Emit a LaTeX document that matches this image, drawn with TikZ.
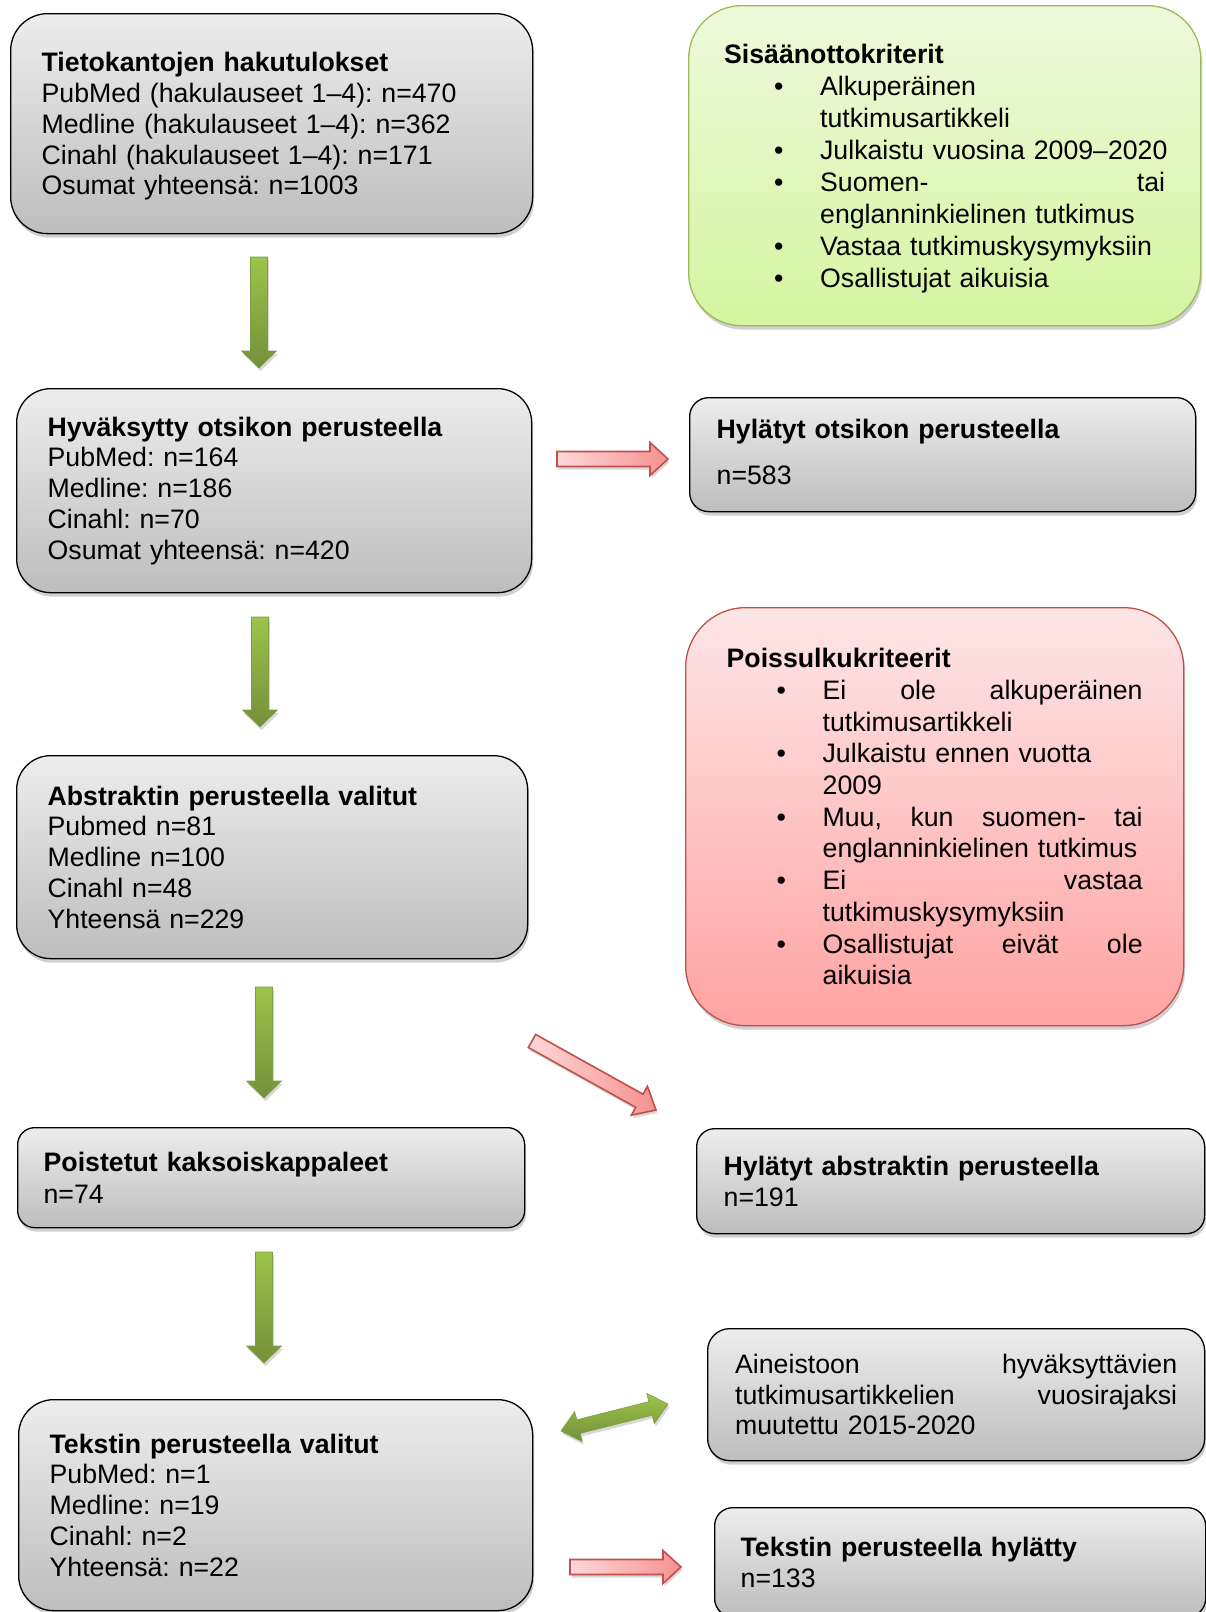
\documentclass[tikz,border=0pt]{standalone}
\usepackage{fontspec}
\setmainfont{Liberation Sans}
\usetikzlibrary{calc,shadows}
\frenchspacing
\definecolor{grayTop}{HTML}{EDEDED}
\definecolor{grayBot}{HTML}{BDBDBD}
\definecolor{grnTop}{HTML}{EEF9DC}
\definecolor{grnBot}{HTML}{D4F5A0}
\definecolor{grnBorder}{HTML}{9BBB59}
\definecolor{redTop}{HTML}{FDE6E6}
\definecolor{redBot}{HTML}{FFA3A3}
\definecolor{redBorder}{HTML}{C0504D}
\definecolor{arGreenA}{HTML}{9DC44A}
\definecolor{arGreenB}{HTML}{73903A}
\definecolor{arGreenLine}{HTML}{7E9E42}
\definecolor{arRedA}{HTML}{FFD8D8}
\definecolor{arRedB}{HTML}{F69090}
\newcommand\bitem[1]{\hspace*{50pt}\makebox[46pt][l]{•}\mbox{#1}}
\newcommand\bcont[1]{\hspace*{96pt}\mbox{#1}}
\newcommand\jline[2]{\leavevmode\hbox to #1{#2}}
% block arrow: style, start, end, half shaft, half head, head length
\newcommand\blockarrow[6]{%
  \coordinate (tmpH) at ($(#3)!#6!(#2)$);
  \path[#1] ($(#2)!#4!90:(#3)$) -- ($(tmpH)!#4!90:(#3)$) -- ($(tmpH)!#5!90:(#3)$) -- (#3)
    -- ($(tmpH)!#5!-90:(#3)$) -- ($(tmpH)!#4!-90:(#3)$) -- ($(#2)!#4!-90:(#3)$) -- cycle;}
% double block arrow: style, end A, end B, half shaft, half head, head length
\newcommand\doublearrow[6]{%
  \coordinate (tmpA) at ($(#2)!#6!(#3)$);
  \coordinate (tmpB) at ($(#3)!#6!(#2)$);
  \path[#1] (#2) -- ($(tmpA)!#5!90:(#3)$) -- ($(tmpA)!#4!90:(#3)$) -- ($(tmpB)!#4!90:(#3)$)
    -- ($(tmpB)!#5!90:(#3)$) -- (#3) -- ($(tmpB)!#5!-90:(#3)$) -- ($(tmpB)!#4!-90:(#3)$)
    -- ($(tmpA)!#4!-90:(#3)$) -- ($(tmpA)!#5!-90:(#3)$) -- cycle;}
\tikzset{
  boxbase/.style={rectangle, anchor=north west, align=left, inner ysep=0pt,
    font=\fontsize{26.7}{30.75}\selectfont,
    drop shadow={shadow xshift=1.5pt, shadow yshift=-4pt, opacity=0.3, fill=black!60}},
  graybox/.style={boxbase, draw=black, line width=1.3pt, top color=grayTop, bottom color=grayBot},
  greenbox/.style={boxbase, draw=grnBorder, line width=1.3pt, top color=grnTop, bottom color=grnBot},
  redbox/.style={boxbase, draw=redBorder, line width=1.3pt, top color=redTop, bottom color=redBot},
  arrowshadow/.style={drop shadow={shadow xshift=1.5pt, shadow yshift=-3pt, opacity=0.25, fill=black!60}},
  greendown/.style={draw=arGreenLine, line width=0.6pt, top color=arGreenA, bottom color=arGreenB, arrowshadow},
  greendbl/.style={draw=arGreenLine, line width=0.6pt, top color=arGreenA, bottom color=arGreenB, arrowshadow},
  redright/.style={draw=redBorder, line width=1.6pt, line join=miter, left color=arRedA, right color=arRedB, arrowshadow}
}
\begin{document}
\begin{tikzpicture}[x=1pt,y=-1pt]
\useasboundingbox[fill=white] (0,0) rectangle (1205,1612);

% left column
\node[graybox, minimum width=522pt, minimum height=220pt, text width=460pt, inner xsep=31pt, rounded corners=37pt] (b1) at (10,13)
 {\rule{0pt}{25pt}\textbf{Tietokantojen hakutulokset}\\PubMed (hakulauseet 1–4): n=470\\Medline (hakulauseet 1–4): n=362\\Cinahl (hakulauseet 1–4): n=171\\Osumat yhteensä: n=1003};

\node[graybox, minimum width=515pt, minimum height=204pt, text width=453pt, inner xsep=31pt, rounded corners=34pt] (b3) at (16,388)
 {\textbf{Hyväksytty otsikon perusteella}\\PubMed: n=164\\Medline: n=186\\Cinahl: n=70\\Osumat yhteensä: n=420};

\node[graybox, minimum width=511pt, minimum height=203pt, text width=449pt, inner xsep=31pt, rounded corners=34pt] (b6) at (16,755)
 {\textbf{Abstraktin perusteella valitut}\\Pubmed n=81\\Medline n=100\\Cinahl n=48\\Yhteensä n=229};

\node[graybox, minimum width=507pt, minimum height=100pt, text width=455pt, inner xsep=26pt, rounded corners=17pt, font=\fontsize{26.7}{32}\selectfont] (b8) at (17,1127)
 {\textbf{Poistetut kaksoiskappaleet}\\n=74};

\node[graybox, minimum width=514pt, minimum height=211pt, text width=452pt, inner xsep=31pt, rounded corners=35pt] (b10) at (18,1399)
 {\textbf{Tekstin perusteella valitut}\\PubMed: n=1\\Medline: n=19\\Cinahl: n=2\\Yhteensä: n=22};

% right column
\node[greenbox, minimum width=512pt, minimum height=320pt, text width=441pt, inner xsep=35.5pt, rounded corners=53pt, font=\fontsize{26.7}{32}\selectfont] (inc) at (688,5)
 {\rule{0pt}{26pt}\textbf{Sisäänottokriterit}\\
  \bitem{Alkuperäinen}\\
  \bcont{tutkimusartikkeli}\\
  \bitem{Julkaistu vuosina 2009–2020}\\
  \bitem{\jline{345pt}{Suomen-\hfill tai}}\\
  \bcont{englanninkielinen tutkimus}\\
  \bitem{Vastaa tutkimuskysymyksiin}\\
  \bitem{Osallistujat aikuisia}};

\node[graybox, minimum width=506pt, minimum height=114pt, text width=452pt, inner xsep=27pt, rounded corners=19pt] (rej1) at (689,397)
 {\textbf{Hylätyt otsikon perusteella}\\[15.25pt]n=583\rule[-6pt]{0pt}{6pt}};

\node[redbox, minimum width=498pt, minimum height=418pt, text width=416pt, inner xsep=41pt, rounded corners=60pt, font=\fontsize{26.7}{31.7}\selectfont] (exc) at (685,607)
 {\textbf{Poissulkukriteerit}\\
  \bitem{\jline{320pt}{Ei\hfill ole\hfill alkuperäinen}}\\
  \bcont{tutkimusartikkeli}\\
  \bitem{Julkaistu ennen vuotta}\\
  \bcont{2009}\\
  \bitem{\jline{320pt}{Muu,\hfill kun\hfill suomen-\hfill tai}}\\
  \bcont{englanninkielinen tutkimus}\\
  \bitem{\jline{320pt}{Ei\hfill vastaa}}\\
  \bcont{tutkimuskysymyksiin}\\
  \bitem{\jline{320pt}{Osallistujat\hfill eivät\hfill ole}}\\
  \bcont{aikuisia}};

\node[graybox, minimum width=508pt, minimum height=105pt, text width=454pt, inner xsep=27pt, rounded corners=18pt, font=\fontsize{26.7}{31}\selectfont] (rej2) at (696,1128)
 {\textbf{Hylätyt abstraktin perusteella}\\n=191};

\node[graybox, minimum width=497pt, minimum height=132pt, text width=442pt, inner xsep=27.5pt, rounded corners=22pt, font=\fontsize{26.7}{30.5}\selectfont] (chg) at (707,1328)
 {\jline{442pt}{Aineistoon\hfill hyväksyttävien}\\\jline{442pt}{tutkimusartikkelien\hfill vuosirajaksi}\\muutettu 2015-2020};

\node[graybox, minimum width=491pt, minimum height=109pt, text width=439pt, inner xsep=26pt, rounded corners=18pt, font=\fontsize{26.7}{31}\selectfont] (rej3) at (714,1507)
 {\textbf{Tekstin perusteella hylätty}\\n=133};

% block arrow end points
\coordinate (a1s) at (259,257);  \coordinate (a1e) at (259,368);
\coordinate (a2s) at (260,617);  \coordinate (a2e) at (260,727);
\coordinate (a3s) at (264,987);  \coordinate (a3e) at (264,1098);
\coordinate (a4s) at (264,1252); \coordinate (a4e) at (264,1363);
\coordinate (r1s) at (557,459);  \coordinate (r1e) at (668,459);
\coordinate (r2s) at (532,1041); \coordinate (r2e) at (656,1110);
\coordinate (r3s) at (570,1567); \coordinate (r3e) at (681,1567);
\coordinate (d1a) at (561,1431); \coordinate (d1b) at (668,1404);

\blockarrow{greendown}{a1s}{a1e}{8.5pt}{17.5pt}{17pt}
\blockarrow{greendown}{a2s}{a2e}{8.5pt}{17.5pt}{17pt}
\blockarrow{greendown}{a3s}{a3e}{8.5pt}{17.5pt}{17pt}
\blockarrow{greendown}{a4s}{a4e}{8.5pt}{17.5pt}{17pt}
\blockarrow{redright}{r1s}{r1e}{7.5pt}{16.5pt}{18pt}
\blockarrow{redright}{r2s}{r2e}{7.5pt}{16.5pt}{19pt}
\blockarrow{redright}{r3s}{r3e}{7.5pt}{16.5pt}{18pt}
\doublearrow{greendbl}{d1a}{d1b}{7pt}{15.5pt}{18pt}
\end{tikzpicture}
\end{document}
